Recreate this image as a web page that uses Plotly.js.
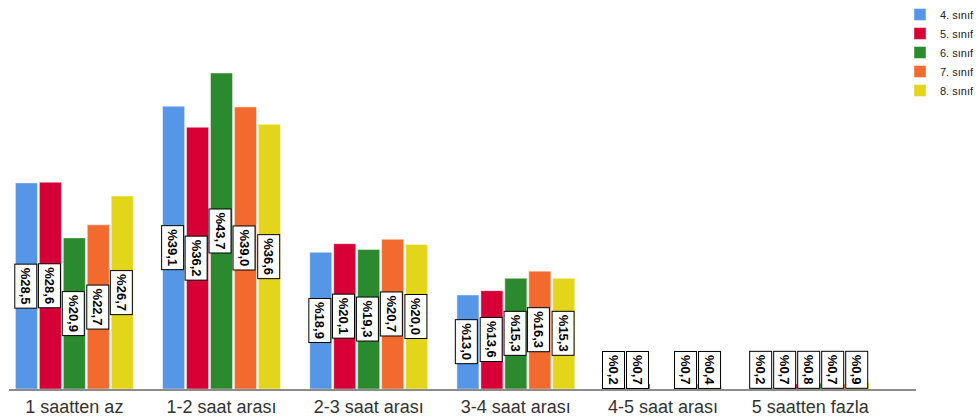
<!DOCTYPE html>
<html>
<head>
<meta charset="utf-8">
<script src="https://cdn.plot.ly/plotly-3.0.1.min.js"></script>
<style>html,body{margin:0;padding:0;background:#fff;}#chart{width:979px;height:420px;}</style>
</head>
<body>
<div id="chart"></div>
<script>
const categories = ["1 saatten az", "1-2 saat arası", "2-3 saat arası", "3-4 saat arası", "4-5 saat arası", "5 saatten fazla"];
const seriesNames = ["4. sınıf", "5. sınıf", "6. sınıf", "7. sınıf", "8. sınıf"];
const sinif4 = [28.5, 39.1, 18.9, 13.0, 0.2, 0.2];
const sinif5 = [28.6, 36.2, 20.1, 13.6, 0.7, 0.7];
const sinif6 = [20.9, 43.7, 19.3, 15.3, null, 0.8];
const sinif7 = [22.7, 39.0, 20.7, 16.3, 0.7, 0.7];
const sinif8 = [26.7, 36.6, 20.0, 15.3, 0.4, 0.9];
const seriesValues = [sinif4, sinif5, sinif6, sinif7, sinif8];
const colors = ["#5596e6", "#d60036", "#2b8a2e", "#f26a2d", "#e3d51a"];

const W = 979, H = 420;
const margin = {l: 9, r: 61, t: 0, b: 31};
const xRange = [-0.444, 5.719];
const yRange = [0, 53.8];
const bargap = 0.186, bargroupgap = 0.08;

const plotW = W - margin.l - margin.r;
const plotH = H - margin.t - margin.b;
const catPx = plotW / (xRange[1] - xRange[0]);
const pitch = catPx * (1 - bargap) / seriesValues.length;
const unitPx = plotH / (yRange[1] - yRange[0]);
const halfLabelPx = 23;

const fmt = v => "%" + v.toFixed(1).replace(".", ",");

const traces = seriesValues.map((vals, i) => ({
  type: "bar",
  name: seriesNames[i],
  x: categories,
  y: vals,
  marker: {color: colors[i], line: {color: "rgba(255,255,255,0.45)", width: 1}},
  hoverinfo: "skip"
}));

const annotations = [];
seriesValues.forEach((vals, i) => {
  vals.forEach((v, j) => {
    if (v === null) return;
    const small = (v / 2) * unitPx < halfLabelPx;
    annotations.push({
      x: categories[j],
      y: small ? 0 : v / 2,
      xref: "x", yref: "y",
      yanchor: small ? "bottom" : "middle",
      xanchor: "center",
      xshift: (i - (seriesValues.length - 1) / 2) * pitch - 1,
      text: fmt(v),
      textangle: 90,
      showarrow: false,
      bgcolor: "#ffffff",
      bordercolor: "#000000",
      borderwidth: 1,
      borderpad: 3,
      font: {family: "Liberation Sans, Arial, sans-serif", size: 13, color: "#000", weight: "bold"}
    });
  });
});

const layout = {
  width: W, height: H,
  margin: margin,
  paper_bgcolor: "#ffffff",
  plot_bgcolor: "#ffffff",
  barmode: "group",
  bargap: bargap,
  bargroupgap: bargroupgap,
  showlegend: true,
  legend: {
    x: 0, y: 1, yanchor: "top", xanchor: "left",
    font: {family: "Liberation Sans, Arial, sans-serif", size: 11, color: "#222"},
    tracegroupgap: 0, itemwidth: 30, bgcolor: "rgba(0,0,0,0)"
  },
  xaxis: {
    type: "category",
    range: xRange,
    showgrid: false, zeroline: false,
    showline: true, linecolor: "#8c8c8c", linewidth: 2,
    ticks: "",
    ticklabelstandoff: 0,
    automargin: false,
    tickfont: {family: "Liberation Sans, Arial, sans-serif", size: 18, color: "#333"},
    fixedrange: true
  },
  yaxis: {
    range: yRange,
    visible: false, showgrid: false, zeroline: false,
    automargin: false,
    fixedrange: true
  },
  annotations: annotations
};
layout.legend.x = (902 - margin.l) / plotW;

Plotly.newPlot("chart", traces, layout, {displayModeBar: false, staticPlot: true});
</script>
</body>
</html>
